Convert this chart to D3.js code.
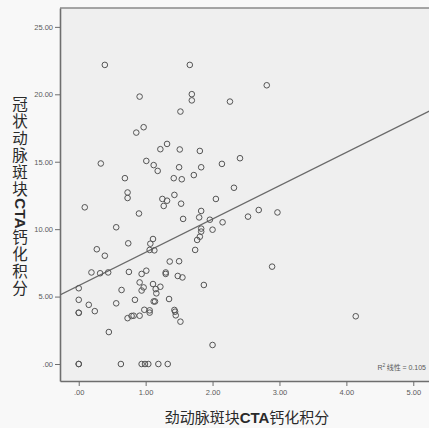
<!DOCTYPE html>
<meta charset="utf-8">
<title>scatter</title>
<script src="https://cdn.jsdelivr.net/npm/d3@7"></script>
<style>
body { margin: 0; background: #f8f8f8; }
text { font-family: Arial, "Liberation Sans", sans-serif; }
.tick-label { fill: #5a5a5a; font-size: 7.5px; }
.title { font-family: "Noto Sans CJK SC", sans-serif; fill: #2a2a2a; }
.latin { font-family: "Liberation Sans", Arial, sans-serif; font-weight: bold; }
</style>
<body>
<script>

// carotid plaque CTA score (x) vs coronary plaque CTA score (y)
var xScores = [0.39, 1.66, 0.91, 1.69, 1.69, 2.26, 2.81, 1.52, 0.97, 0.86,
  1.32, 1.22, 1.51, 1.81, 2.41, 2.14, 0.33, 1.01, 1.12, 1.18,
  1.50, 1.83, 1.72, 1.42, 1.54, 0.69, 0.73, 0.73, 1.43, 1.25,
  1.32, 1.27, 1.53, 2.32, 2.05, 1.83, 2.69, 2.97, 2.53, 0.90,
  0.09, 1.56, 1.80, 1.96, 2.15, 0.56, 1.83, 1.83, 2.00, 1.11,
  0.74, 1.07, 1.81, 1.77, 1.06, 1.13, 0.27, 1.74, 0.39, 1.36,
  1.50, 2.89, 0.19, 0.32, 0.44, 0.75, 0.94, 1.01, 1.30, 1.30,
  1.48, 1.55, 1.87, 0.00, 0.00, 0.00, 0.00, 0.15, 0.24, 0.64,
  0.56, 0.45, 0.91, 0.97, 0.94, 1.11, 1.15, 1.22, 1.16, 1.12,
  1.14, 0.84, 0.73, 0.79, 0.82, 0.91, 0.98, 1.06, 1.06, 1.35,
  1.43, 1.44, 1.45, 1.52, 2.00, 4.14, 0.00, 0.00, 0.63, 0.94,
  0.99, 1.04, 1.19, 1.33];

var yScores = [22.18, 22.18, 19.83, 20.01, 19.55, 19.46, 20.67, 18.72, 17.56, 17.16,
  16.32, 15.93, 15.91, 15.80, 15.26, 14.84, 14.87, 15.06, 14.75, 14.32,
  14.59, 14.59, 14.01, 13.78, 13.70, 13.78, 12.72, 12.31, 12.54, 12.24,
  12.11, 11.72, 11.89, 13.07, 12.24, 11.35, 11.42, 11.24, 10.93, 11.16,
  11.62, 10.76, 10.87, 10.70, 10.51, 10.14, 10.04, 9.82, 9.96, 9.27,
  8.95, 8.92, 9.44, 9.20, 8.46, 8.43, 8.51, 8.46, 8.03, 7.60,
  7.62, 7.22, 6.79, 6.73, 6.79, 6.83, 6.68, 6.92, 6.79, 6.68,
  6.53, 6.42, 5.86, 5.62, 4.76, 3.80, 3.80, 4.39, 3.92, 5.49,
  4.50, 2.37, 6.05, 5.68, 5.45, 5.93, 5.56, 5.73, 5.24, 4.64,
  4.64, 4.76, 3.40, 3.56, 3.58, 3.58, 4.02, 3.98, 3.81, 4.82,
  4.01, 3.88, 3.61, 3.14, 1.41, 3.54, 0.00, 0.00, 0.00, 0.00,
  0.00, 0.00, 0.00, 0.00];

var xTicks = [0, 1, 2, 3, 4, 5];
var xTickLabels = [".00", "1.00", "2.00", "3.00", "4.00", "5.00"];
var yTicks = [0, 5, 10, 15, 20, 25];
var yTickLabels = [".00", "5.00", "10.00", "15.00", "20.00", "25.00"];

// linear fit
var fitIntercept = 5.81;
var fitSlope = 2.47;
var rSquared = "0.105";

var width = 429, height = 428;
var margin = {top: 8, right: -1, bottom: 47, left: 60};

var svg = d3.select("body").append("svg")
    .attr("width", width)
    .attr("height", height);

var x = d3.scaleLinear()
    .domain([-0.28, 5.25])
    .range([margin.left, width - margin.right]);

var y = d3.scaleLinear()
    .domain([-1.26, 26.4])
    .range([height - margin.bottom, margin.top]);

// plot background
svg.append("rect")
    .attr("x", margin.left)
    .attr("y", margin.top)
    .attr("width", width - margin.right - margin.left)
    .attr("height", height - margin.bottom - margin.top)
    .attr("fill", "#efefef");

svg.append("defs").append("clipPath").attr("id", "clip")
  .append("rect")
    .attr("x", margin.left)
    .attr("y", margin.top)
    .attr("width", width - margin.right - margin.left)
    .attr("height", height - margin.bottom - margin.top);

// frame
svg.append("line")
    .attr("x1", margin.left).attr("x2", width)
    .attr("y1", margin.top).attr("y2", margin.top)
    .attr("stroke", "#8a8a8a").attr("stroke-width", 1.5);

// axes
var xAxis = svg.append("g")
    .attr("transform", "translate(0," + (height - margin.bottom) + ")")
    .call(d3.axisBottom(x).tickValues(xTicks)
      .tickFormat(function(d, i) { return xTickLabels[i]; })
      .tickSize(5).tickSizeOuter(0).tickPadding(4));

var yAxis = svg.append("g")
    .attr("transform", "translate(" + margin.left + ",0)")
    .call(d3.axisLeft(y).tickValues(yTicks)
      .tickFormat(function(d, i) { return yTickLabels[i]; })
      .tickSize(5).tickSizeOuter(0).tickPadding(2));

[xAxis, yAxis].forEach(function(a) {
  a.select(".domain").attr("stroke", "#6e6e6e").attr("stroke-width", 1.6);
  a.selectAll(".tick line").attr("stroke", "#6e6e6e");
  a.selectAll(".tick text").attr("class", "tick-label").attr("font-family", null).attr("font-size", null);
});

// fit line
var xs = x.domain();
svg.append("line")
    .attr("clip-path", "url(#clip)")
    .attr("x1", x(xs[0])).attr("y1", y(fitIntercept + fitSlope * xs[0]))
    .attr("x2", x(xs[1])).attr("y2", y(fitIntercept + fitSlope * xs[1]))
    .attr("stroke", "#6a6a6a")
    .attr("stroke-width", 1.3);

// points
svg.append("g")
  .selectAll("circle")
  .data(xScores)
  .enter().append("circle")
    .attr("cx", function(d) { return x(d); })
    .attr("cy", function(d, i) { return y(yScores[i]); })
    .attr("r", 2.8)
    .attr("fill", "none")
    .attr("stroke", "#555")
    .attr("stroke-width", 1);

// R2 label
var r2 = svg.append("text")
    .attr("x", 426)
    .attr("y", 370)
    .attr("text-anchor", "end")
    .attr("class", "tick-label")
    .style("font-size", "7px");
r2.append("tspan").text("R");
r2.append("tspan").attr("dy", -3).style("font-size", "5px").text("2");
r2.append("tspan").attr("dy", 3).attr("font-family", "Noto Sans CJK SC").text(" 线性 ");
r2.append("tspan").text("= " + rSquared);

// x title
var xt = svg.append("text")
    .attr("class", "title")
    .attr("x", 247)
    .attr("y", 423)
    .attr("text-anchor", "middle")
    .style("font-size", "15px");
xt.append("tspan").text("劲动脉斑块");
xt.append("tspan").attr("class", "latin").text("CTA");
xt.append("tspan").text("钙化积分");

// y title, vertical
var yt = svg.append("text")
    .attr("class", "title")
    .attr("x", 20)
    .attr("y", 96)
    .style("writing-mode", "vertical-rl")
    .style("text-orientation", "mixed")
    .style("font-size", "15.5px")
    .style("letter-spacing", "1.5px");
yt.append("tspan").text("冠状动脉斑块");
yt.append("tspan").attr("class", "latin").style("letter-spacing", "0px").text("CTA");
yt.append("tspan").text("钙化积分");

</script>
</body>
</html>
